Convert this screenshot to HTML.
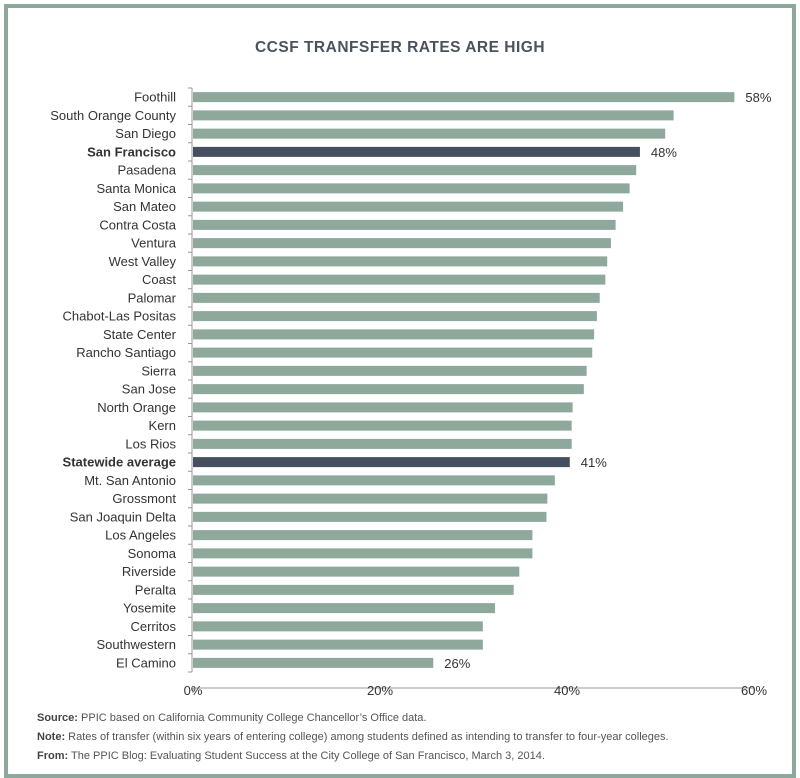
<!DOCTYPE html>
<html><head><meta charset="utf-8"><style>
body{margin:0;background:#fff;font-family:"Liberation Sans",sans-serif}
#wrap{position:absolute;left:4px;top:4px;width:784px;height:766px;border:4px solid #8fa89c;background:#fff}
svg{position:absolute;left:0;top:0}
.foot{position:absolute;left:37px;font-size:11px;color:#555}
.foot b{color:#444}
</style></head><body>
<div id="wrap"></div>
<svg id="c" width="800" height="778">
<text x="400" y="52" text-anchor="middle" font-size="15.5" font-weight="bold" fill="#4a525c" letter-spacing="0.5">CCSF TRANFSFER RATES ARE HIGH</text>
</svg>
<div class="foot" style="top:712px"><b>Source:</b> PPIC based on California Community College Chancellor’s Office data.</div>
<div class="foot" style="top:731px"><b>Note:</b> Rates of transfer (within six years of entering college) among students defined as intending to transfer to four-year colleges.</div>
<div class="foot" style="top:750px"><b>From:</b> The PPIC Blog: Evaluating Student Success at the City College of San Francisco, March 3, 2014.</div>
<script>
const categories=["Foothill","South Orange County","San Diego","San Francisco","Pasadena","Santa Monica","San Mateo","Contra Costa","Ventura","West Valley","Coast","Palomar","Chabot-Las Positas","State Center","Rancho Santiago","Sierra","San Jose","North Orange","Kern","Los Rios","Statewide average","Mt. San Antonio","Grossmont","San Joaquin Delta","Los Angeles","Sonoma","Riverside","Peralta","Yosemite","Cerritos","Southwestern","El Camino"];
const values=[57.9,51.4,50.5,47.8,47.4,46.7,46,45.2,44.7,44.3,44.1,43.5,43.2,42.9,42.7,42.1,41.8,40.6,40.5,40.5,40.3,38.7,37.9,37.8,36.3,36.3,34.9,34.3,32.3,31,31,25.7];
const highlighted=["San Francisco","Statewide average"];
const valueLabels={"Foothill":"58%","San Francisco":"48%","Statewide average":"41%","El Camino":"26%"};
const xTicks=[0,20,40,60];
const NS="http://www.w3.org/2000/svg",svg=document.getElementById('c');
const x0=193,x1=754,yTop=88,step=18.25,bh=10;
const xs=v=>x0+(x1-x0)*v/60;
const yc=i=>yTop+step*(i+0.5);
function mk(t,a){const e=document.createElementNS(NS,t);for(const k in a)e.setAttribute(k,a[k]);svg.appendChild(e);return e;}
const yAxisBottom=yTop+step*categories.length;
const ax=mk('line',{x1:192,x2:192,y1:yTop,y2:yAxisBottom,stroke:'#999','stroke-width':1});


for(let i=0;i<=categories.length;i++){const yy=yTop+step*i;mk('line',{x1:188,x2:192,y1:yy,y2:yy,stroke:'#999'});}
categories.forEach((c,i)=>{
 const hi=highlighted.includes(c);
 const r=mk('rect',{x:x0,y:yc(i)-bh/2,width:xs(values[i])-x0,height:bh,fill:hi?'#454f5f':'#8fa89c'});
 
 
 const t=mk('text',{x:176,y:yc(i)+4.5,'text-anchor':'end','font-size':13,fill:'#333','font-weight':hi?'bold':'normal'});
 t.textContent=c;
 
 
 if(valueLabels[c]){
  const v=mk('text',{x:xs(values[i])+11,y:yc(i)+5,'font-size':13,fill:'#333'});
  v.textContent=valueLabels[c];
  
  
 }
});
const xa=mk('line',{x1:x0,x2:x1,y1:688,y2:688,stroke:'#999'});


xTicks.forEach(v=>{
 mk('line',{x1:xs(v),x2:xs(v),y1:688,y2:693,stroke:'#999'});
 const t=mk('text',{x:xs(v),y:695,'text-anchor':'middle','font-size':13,fill:'#333'});
 t.textContent=v+'%';
 
 
});
</script>
</body></html>
